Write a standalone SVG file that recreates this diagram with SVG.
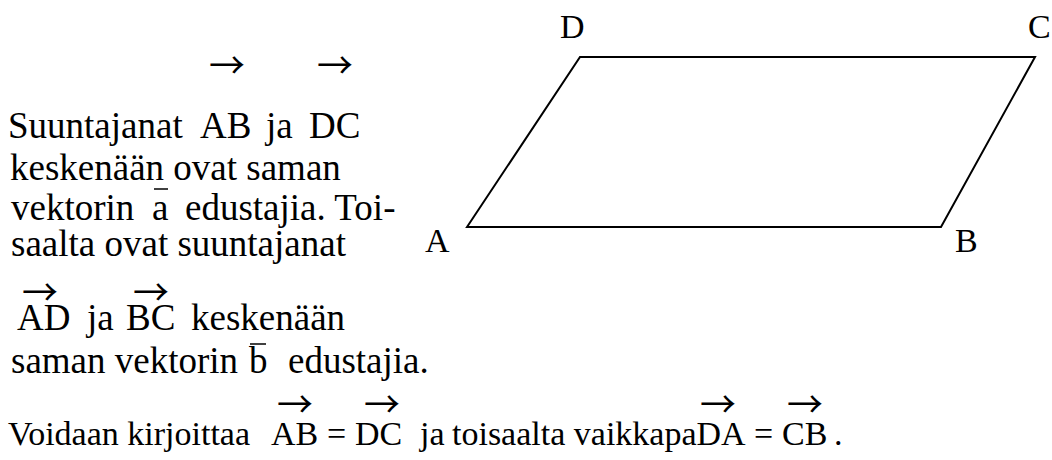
<svg xmlns="http://www.w3.org/2000/svg" width="1052" height="460" viewBox="0 0 1052 460">
<style>
text{font-family:"Liberation Serif","Times New Roman",serif;font-size:37px;fill:#000}
.l7{font-size:34px}
.lbl{font-size:34px}
.arr{font-family:"Noto Sans CJK JP","DejaVu Serif",serif;font-size:36px;text-anchor:middle}
.bar{stroke:#000;stroke-width:1.5}
</style>
<rect width="1052" height="460" fill="#fff"/>
<g id="text">
<text x="8" y="138">Suuntajanat</text>
<text x="200" y="138">AB</text>
<text x="266" y="138">ja</text>
<text x="309" y="138">DC</text>
<text class="arr" x="227" y="79">→</text>
<text class="arr" x="335" y="79">→</text>
<text x="10" y="180">keskenään ovat saman</text>
<text x="11" y="220">vektorin</text>
<text x="152" y="220">a</text>
<line class="bar" x1="154" y1="189" x2="168" y2="189"/>
<text x="185" y="220">edustajia. Toi-</text>
<text x="11" y="256">saalta ovat suuntajanat</text>
<text class="arr" x="40" y="306">→</text>
<text class="arr" x="151" y="306">→</text>
<text x="17" y="330">AD</text>
<text x="87" y="330">ja</text>
<text x="126" y="330">BC</text>
<text x="191" y="330">keskenään</text>
<text x="11" y="373">saman vektorin</text>
<text x="249" y="373">b</text>
<line class="bar" x1="250" y1="344" x2="266" y2="344"/>
<text x="288" y="373">edustajia.</text>
<text class="l7" x="8" y="445">Voidaan kirjoittaa</text>
<text class="l7" x="271" y="445">AB</text>
<text class="l7" x="327" y="445">=</text>
<text class="l7" x="355" y="445">DC</text>
<text class="l7" x="420" y="445">ja</text>
<text class="l7" x="452" y="445">toisaalta vaikkapaDA</text>
<text class="l7" x="754" y="445">=</text>
<text class="l7" x="782" y="445">CB</text>
<text class="l7" x="834" y="445">.</text>
<text class="arr" x="295" y="418">→</text>
<text class="arr" x="382" y="418">→</text>
<text class="arr" x="718" y="418">→</text>
<text class="arr" x="805" y="418">→</text>
</g>
<g id="parallelogram">
<polygon points="467,227 580,57 1035,57 941,227" fill="none" stroke="#000" stroke-width="2"/>
</g>
<g id="labels">
<text class="lbl" x="560" y="38">D</text>
<text class="lbl" x="1028" y="38">C</text>
<text class="lbl" x="425" y="252">A</text>
<text class="lbl" x="955" y="252">B</text>
</g>
</svg>
